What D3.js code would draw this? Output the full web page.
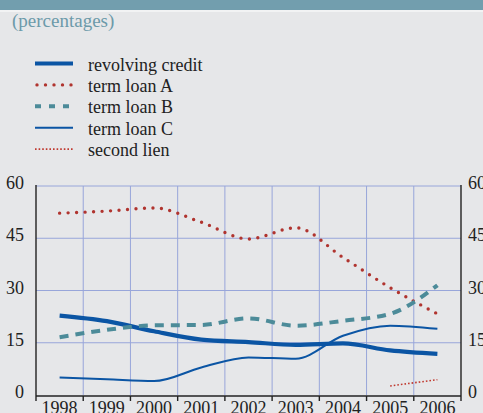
<!DOCTYPE html>
<html>
<head>
<meta charset="utf-8">
<script src="https://cdn.jsdelivr.net/npm/d3@7"></script>
<style>
  body { margin: 0; background: #e6e7e9; }
  svg text { font-family: "Liberation Serif", "Times New Roman", serif; }
</style>
</head>
<body>
<svg id="canvas" width="483" height="413"></svg>
<script>
let years = ["1998", "1999", "2000", "2001", "2002", "2003", "2004", "2005", "2006"];
let yTicks = [0, 15, 30, 45, 60];

let revolvingCredit = [22.8, 21.2, 18.3, 15.9, 15.2, 14.4, 14.8, 12.8, 11.8];
let termLoanA = [52.2, 52.8, 53.7, 49.6, 44.8, 48.0, 39.5, 30.8, 23.3];
let termLoanB = [16.6, 18.7, 20.0, 20.1, 22.0, 19.9, 21.3, 23.3, 31.5];
let termLoanC = [5.0, 4.5, 4.0, 7.9, 10.8, 10.4, 17.0, 19.9, 19.0];
let secondLien = [null, null, null, null, null, null, null, 2.6, 4.4];

let canvas = d3.select("#canvas");

// top band
canvas.append("rect").attr("x", 0).attr("y", 0).attr("width", 483).attr("height", 10).attr("fill", "#729eae");
canvas.append("rect").attr("x", 0).attr("y", 10).attr("width", 483).attr("height", 2).attr("fill", "#f2f3f4");

canvas.append("text")
    .attr("x", 12).attr("y", 27)
    .attr("font-size", 19)
    .attr("fill", "#6c9aa9")
    .text("(percentages)");

let plotLeft = 36, plotRight = 461, plotTop = 186, plotBottom = 395;

let x = d3.scaleBand().domain(years).range([plotLeft, plotRight]);
let y = d3.scaleLinear().domain([0, 60]).range([plotBottom, plotTop]);

let series = [
    { name: "revolving credit", values: revolvingCredit, color: "#0b55a4", width: 4.2, dash: null, cap: "butt" },
    { name: "term loan A", values: termLoanA, color: "#b0342f", width: 3.4, dash: "0,8.5", cap: "round" },
    { name: "term loan B", values: termLoanB, color: "#4c8b99", width: 4, dash: "9,7", cap: "butt" },
    { name: "term loan C", values: termLoanC, color: "#0b55a4", width: 2, dash: null, cap: "butt" },
    { name: "second lien", values: secondLien, color: "#c0392f", width: 1.6, dash: "1.6,2", cap: "butt" }
];

// grid
canvas.append("g")
    .selectAll("line")
    .data(yTicks.filter(d => d > 0))
    .enter()
    .append("line")
    .attr("x1", plotLeft).attr("x2", plotRight)
    .attr("y1", d => y(d)).attr("y2", d => y(d))
    .attr("stroke", "#98a6da").attr("stroke-width", 1);

canvas.append("g")
    .selectAll("line")
    .data(years.slice(1))
    .enter()
    .append("line")
    .attr("x1", d => x(d)).attr("x2", d => x(d))
    .attr("y1", plotTop).attr("y2", plotBottom)
    .attr("stroke", "#98a6da").attr("stroke-width", 1);

// axes
let leftAxis = d3.axisLeft(y).tickValues(yTicks).tickSize(0).tickPadding(12);
let rightAxis = d3.axisRight(y).tickValues(yTicks).tickSize(0).tickPadding(7);

let gl = canvas.append("g").attr("transform", "translate(" + plotLeft + ",0)").call(leftAxis);
let gr = canvas.append("g").attr("transform", "translate(" + plotRight + ",0)").call(rightAxis);
[gl, gr].forEach(g => {
    g.select(".domain").attr("stroke", "#222").attr("stroke-width", 1.4).attr("d", "M0," + (plotTop - 1) + "V" + (plotBottom + 1));
    g.selectAll("text").attr("font-size", 18).attr("fill", "#222").attr("dy", "0.14em");
});

let gx = canvas.append("g").attr("transform", "translate(0," + (plotBottom + 1) + ")");
gx.append("line").attr("x1", plotLeft).attr("x2", plotRight).attr("y1", 0).attr("y2", 0).attr("stroke", "#222").attr("stroke-width", 1.4);
gx.selectAll("line.tick")
    .data(years.map(d => x(d)).concat([plotRight]))
    .enter()
    .append("line")
    .attr("class", "tick")
    .attr("x1", d => d).attr("x2", d => d)
    .attr("y1", 0).attr("y2", 5)
    .attr("stroke", "#222").attr("stroke-width", 1.4);
gx.selectAll("text")
    .data(years)
    .enter()
    .append("text")
    .attr("x", d => x(d) + x.bandwidth() / 2)
    .attr("y", 17.5)
    .attr("text-anchor", "middle")
    .attr("font-size", 18)
    .attr("fill", "#222")
    .text(d => d);

// lines
let line = d3.line()
    .defined(d => d != null)
    .x((d, i) => x(years[i]) + x.bandwidth() / 2)
    .y(d => y(d))
    .curve(d3.curveMonotoneX);

canvas.append("g")
    .selectAll("path")
    .data(series)
    .enter()
    .append("path")
    .attr("d", s => line(s.values))
    .attr("fill", "none")
    .attr("stroke", s => s.color)
    .attr("stroke-width", s => s.width)
    .attr("stroke-dasharray", s => s.dash)
    .attr("stroke-linecap", s => s.cap);

// legend
let legend = canvas.append("g")
    .selectAll("g")
    .data(series)
    .enter()
    .append("g")
    .attr("transform", (s, i) => "translate(35," + (63.5 + i * 21.4) + ")");

legend.append("line")
    .attr("x1", s => s.cap === "round" ? 2 : 0).attr("x2", 38)
    .attr("y1", 0).attr("y2", 0)
    .attr("stroke", s => s.color)
    .attr("stroke-width", s => s.width)
    .attr("stroke-dasharray", s => s.name === "term loan B" ? "6,8" : s.dash)
    .attr("stroke-linecap", s => s.cap);

legend.append("text")
    .attr("x", 53).attr("y", 7)
    .attr("font-size", 18)
    .attr("fill", "#222")
    .text(s => s.name);
</script>
</body>
</html>
